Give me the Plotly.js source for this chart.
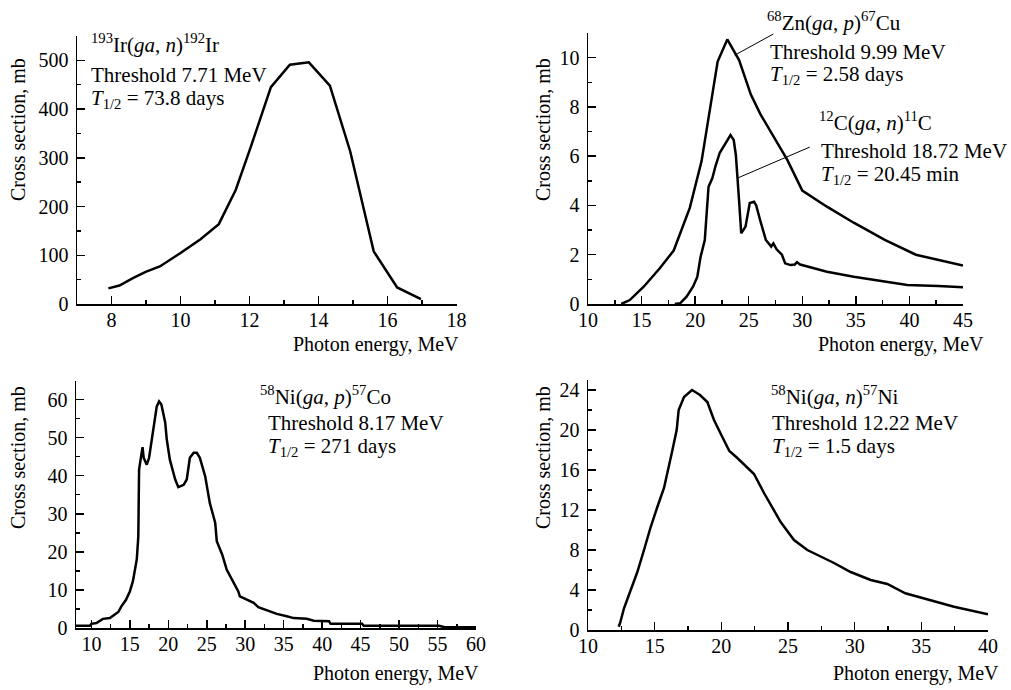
<!DOCTYPE html>
<html>
<head>
<meta charset="utf-8">
<script src="https://cdn.plot.ly/plotly-3.0.1.min.js"></script>
<style>html,body{margin:0;padding:0;background:#fff;}#chart{width:1011px;height:690px;}</style>
</head>
<body>
<div id="chart"></div>
<script>
// ---- Data ----
const irE  = [7.91, 8.23, 8.62, 8.99, 9.40, 9.99, 10.58, 11.11, 11.60, 12.04, 12.62, 13.17, 13.72, 14.33, 14.92, 15.60, 16.28, 16.97];
const irXS = [32, 38, 53, 66, 77, 104, 133, 164, 234, 323, 445, 491, 496, 448, 313, 108, 34, 10];

const znE  = [13.1, 13.9, 15.2, 16.7, 18.0, 19.5, 20.6, 22.1, 23.0, 24.1, 25.2, 26.1, 28.6, 30.0, 32.3, 34.8, 37.7, 40.6, 45.0];
const znXS = [0, 0.16, 0.7, 1.45, 2.17, 3.9, 5.8, 9.84, 10.74, 9.9, 8.5, 7.7, 5.85, 4.6, 3.95, 3.3, 2.6, 2.0, 1.56];

const cE  = [18.1, 18.6, 19.2, 19.8, 20.2, 20.5, 20.9, 21.25, 21.6, 21.9, 22.3, 22.8, 23.3, 23.6, 23.8, 24.1, 24.3, 24.7, 24.9, 25.1, 25.5, 25.7, 26.1, 26.6, 27.1, 27.3, 27.6, 28.1, 28.4, 28.9, 29.3, 29.5, 29.8, 32.3, 34.8, 37.3, 39.8, 42.7, 45.0];
const cXS = [0, 0.03, 0.3, 0.7, 1.1, 1.9, 2.6, 4.76, 5.1, 5.6, 6.14, 6.5, 6.86, 6.66, 6.05, 4.2, 2.87, 3.14, 3.55, 4.1, 4.15, 4.0, 3.35, 2.6, 2.33, 2.46, 2.22, 2.0, 1.65, 1.58, 1.6, 1.7, 1.6, 1.31, 1.11, 0.93, 0.77, 0.73, 0.68];

const nipE  = [8, 9.8, 10, 10.65, 11.5, 12.4, 13.0, 13.5, 13.9, 14.5, 15.0, 15.4, 15.9, 16.1, 16.2, 16.4, 16.65, 16.8, 17.2, 17.5, 18.0, 18.5, 18.8, 19.1, 19.6, 19.8, 20.2, 20.9, 21.3, 22.0, 22.4, 22.6, 22.8, 23.3, 23.7, 24.1, 24.8, 25.4, 26.1, 26.3, 27.0, 27.6, 28.5, 29.1, 29.3, 30.2, 31.1, 31.7, 32.8, 34.1, 35.4, 36.3, 38.0, 38.9, 40.9, 41.1, 45.2, 45.4, 55.2, 55.9, 60];
const nipXS = [0.6, 0.6, 1.1, 1.3, 2.4, 2.6, 3.5, 4.2, 5.7, 7.4, 9.6, 12.3, 18, 24, 41.6, 44.2, 47.5, 44.7, 42.9, 44.7, 51.2, 58.2, 59.5, 58.7, 53.9, 49.5, 44.2, 39, 37, 37.6, 39, 41.6, 44.7, 46, 46, 44.7, 39.8, 32.8, 27.6, 22.8, 19.3, 15.3, 11.8, 9.6, 8.3, 7.4, 6.6, 5.5, 4.6, 3.7, 3.1, 2.6, 2.4, 1.9, 1.75, 1.1, 1.1, 0.6, 0.6, 0.2, 0.2];

const ninE  = [12.3, 12.4, 12.7, 13.2, 13.7, 14.2, 14.7, 15.2, 15.7, 16.3, 16.65, 16.8, 17.2, 17.8, 18.4, 18.95, 19.45, 20.0, 20.6, 21.2, 22.45, 23.2, 24.45, 25.45, 26.45, 28.45, 29.7, 31.2, 32.45, 33.8, 35.7, 37.45, 40.0];
const ninXS = [0.33, 0.67, 2.17, 4, 5.8, 8, 10.3, 12.3, 14.2, 17.8, 20, 22, 23.3, 24, 23.5, 22.8, 21, 19.5, 17.9, 17.2, 15.6, 13.7, 10.8, 9, 8, 6.7, 5.8, 5, 4.6, 3.67, 3, 2.33, 1.57];

// ---- Labels ----
const xTitle = 'Photon energy, MeV';
const yTitle = 'Cross section, mb';
const labelsIr  = ['<sup>193</sup>Ir(<i>ga</i>, <i>n</i>)<sup>192</sup>Ir', 'Threshold 7.71 MeV', '<i>T</i><sub>1/2</sub> = 73.8 days'];
const labelsZn  = ['<sup>68</sup>Zn(<i>ga</i>, <i>p</i>)<sup>67</sup>Cu', 'Threshold 9.99 MeV', '<i>T</i><sub>1/2</sub> = 2.58 days'];
const labelsC   = ['<sup>12</sup>C(<i>ga</i>, <i>n</i>)<sup>11</sup>C', 'Threshold 18.72 MeV', '<i>T</i><sub>1/2</sub> = 20.45 min'];
const labelsNip = ['<sup>58</sup>Ni(<i>ga</i>, <i>p</i>)<sup>57</sup>Co', 'Threshold 8.17 MeV', '<i>T</i><sub>1/2</sub> = 271 days'];
const labelsNin = ['<sup>58</sup>Ni(<i>ga</i>, <i>n</i>)<sup>57</sup>Ni', 'Threshold 12.22 MeV', '<i>T</i><sub>1/2</sub> = 1.5 days'];

// ---- Layout helpers ----
const W = 1011, H = 690;
const FONT = 'Liberation Serif';
const px = v => v / W;
const py = v => 1 - v / H;

function axis(domain, range, dtick, minorDtick, anchor, isY) {
  return {
    domain: domain, range: range, dtick: dtick, tick0: 0, anchor: anchor,
    tickmode: 'linear',
    showline: true, linecolor: '#000', linewidth: 1.5,
    ticks: 'inside', ticklen: 8, tickwidth: 1.5, tickcolor: '#000',
    minor: { dtick: minorDtick, tick0: 0, ticks: 'inside', ticklen: 4, tickwidth: 1.5, tickcolor: '#000', showgrid: false },
    showgrid: false, zeroline: false, fixedrange: true,
    tickfont: { family: FONT, size: 20, color: '#000' },
    ticklabelstandoff: isY ? 3 : -3,
    automargin: false
  };
}

const line = { color: '#000', width: 2.5 };
const traces = [
  { x: irE, y: irXS, xaxis: 'x', yaxis: 'y', mode: 'lines', line: line },
  { x: znE, y: znXS, xaxis: 'x2', yaxis: 'y2', mode: 'lines', line: line },
  { x: cE, y: cXS, xaxis: 'x2', yaxis: 'y2', mode: 'lines', line: line },
  { x: nipE, y: nipXS, xaxis: 'x3', yaxis: 'y3', mode: 'lines', line: line },
  { x: ninE, y: ninXS, xaxis: 'x4', yaxis: 'y4', mode: 'lines', line: line }
];

function txt(text, x, y, opts, size) {
  return Object.assign({
    text: text, xref: 'paper', yref: 'paper', x: px(x), y: py(y),
    xanchor: 'left', yanchor: 'middle', showarrow: false,
    font: { family: FONT, size: size || 21, color: '#000' }
  }, opts || {});
}
function block(labels, xs, ys) {
  return labels.map((t, i) => txt(t, xs[i], ys[i]));
}

const annotations = [].concat(
  block(labelsIr, [89, 89, 89], [43, 75, 99]),
  block(labelsZn, [765, 768, 768], [21, 52, 75]),
  block(labelsC, [817, 819, 819], [121, 151, 175]),
  block(labelsNip, [258, 266, 266], [395, 423, 447]),
  block(labelsNin, [769, 770, 770], [395, 423, 447]),
  [
    txt(xTitle, 461, 344, { xanchor: 'right' }, 20),
    txt(xTitle, 986, 344, { xanchor: 'right' }, 20),
    txt(xTitle, 481, 673, { xanchor: 'right' }, 20),
    txt(xTitle, 1001, 673, { xanchor: 'right' }, 20),
    txt(yTitle, 18, 130, { xanchor: 'center', textangle: -90 }, 20),
    txt(yTitle, 543, 130, { xanchor: 'center', textangle: -90 }, 20),
    txt(yTitle, 18, 458, { xanchor: 'center', textangle: -90 }, 20),
    txt(yTitle, 543, 458, { xanchor: 'center', textangle: -90 }, 20)
  ]
);

const layout = {
  width: W, height: H,
  margin: { l: 0, r: 0, t: 0, b: 0, autoexpand: false },
  showlegend: false,
  font: { family: FONT, size: 20, color: '#000' },
  xaxis:  axis([px(77), px(456.5)], [7, 18], 2, 1, 'y', false),
  yaxis:  axis([py(304), py(36)], [0, 550], 100, 50, 'x', true),
  xaxis2: axis([px(588), px(963)], [10, 45], 5, 2.5, 'y2', false),
  yaxis2: axis([py(304), py(33)], [0, 11], 2, 1, 'x2', true),
  xaxis3: axis([px(76), px(476)], [8, 60], 5, 2.5, 'y3', false),
  yaxis3: axis([py(628), py(380.5)], [0, 65], 10, 5, 'x3', true),
  xaxis4: axis([px(588), px(988)], [10, 40], 5, 2.5, 'y4', false),
  yaxis4: axis([py(630), py(380)], [0, 25], 4, 2, 'x4', true),
  annotations: annotations,
  shapes: [
    { type: 'line', xref: 'x2', yref: 'y2', x0: 23.7, y0: 10.1, x1: 27.3, y1: 10.96, line: { color: '#000', width: 1 } },
    { type: 'line', xref: 'x2', yref: 'y2', x0: 24.0, y0: 5.12, x1: 30.7, y1: 6.37, line: { color: '#000', width: 1 } }
  ]
};

Plotly.newPlot('chart', traces, layout, { staticPlot: true });
</script>
</body>
</html>
